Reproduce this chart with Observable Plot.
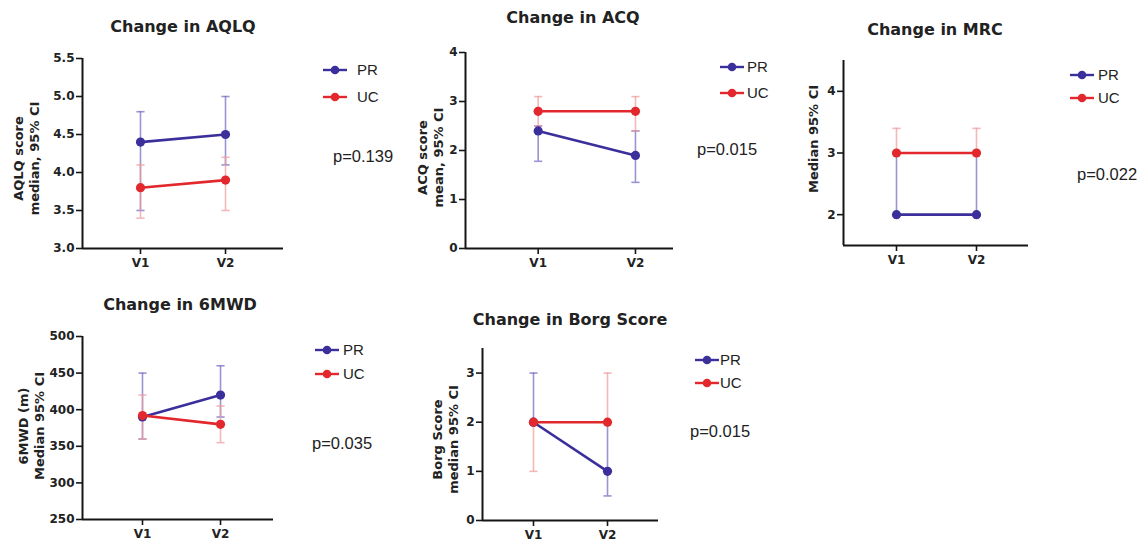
<!DOCTYPE html>
<html>
<head>
<meta charset="utf-8">
<script src="https://cdn.jsdelivr.net/npm/d3@7"></script>
<script src="https://cdn.jsdelivr.net/npm/@observablehq/plot@0.6"></script>
<style>
  body { margin: 0; background: #fff; }
  #fig { position: relative; width: 1137px; height: 541px; overflow: hidden; background: #fff; }
  .abs { position: absolute; }
  .title { font-family: "DejaVu Sans", sans-serif; font-weight: bold; font-size: 16px; color: #222;
           transform: translateX(-50%); white-space: nowrap; line-height: 1; }
  .leg { font-family: "Liberation Sans", Arial, sans-serif; font-size: 15px; color: #222; line-height: 1; white-space: nowrap; }
  .pval { font-family: "Liberation Sans", Arial, sans-serif; font-size: 16.5px; color: #222; line-height: 1; white-space: nowrap; }
</style>
</head>
<body>
<div id="fig"></div>
<script>
// Visits and study groups
const visits = ["V1", "V2"];
const groups = ["PR", "UC"];

// AQLQ score, median and 95% CI
const aqlqPR = [4.4, 4.5];
const aqlqUC = [3.8, 3.9];
const aqlqPRci = [[3.5, 4.8], [4.1, 5.0]];
const aqlqUCci = [[3.4, 4.1], [3.5, 4.2]];
const aqlqTicks = [3.0, 3.5, 4.0, 4.5, 5.0, 5.5];

// ACQ score, mean and 95% CI
const acqPR = [2.4, 1.9];
const acqUC = [2.8, 2.8];
const acqPRci = [[1.78, 2.5], [1.35, 2.4]];
const acqUCci = [[2.5, 3.1], [2.4, 3.1]];
const acqTicks = [0, 1, 2, 3, 4];

// MRC dyspnoea, median and 95% CI
const mrcPR = [2, 2];
const mrcUC = [3, 3];
const mrcPRci = [[2, 3], [2, 3]];
const mrcUCci = [[3, 3.4], [3, 3.4]];
const mrcTicks = [2, 3, 4];

// Six-minute walk distance (m), median and 95% CI
const mwdPR = [390, 420];
const mwdUC = [392, 380];
const mwdPRci = [[360, 450], [390, 460]];
const mwdUCci = [[360, 420], [355, 405]];
const mwdTicks = [250, 300, 350, 400, 450, 500];

// Borg score, median and 95% CI
const borgPR = [2, 1];
const borgUC = [2, 2];
const borgPRci = [[2, 3], [0.5, 2]];
const borgUCci = [[1, 2], [2, 3]];
const borgTicks = [0, 1, 2, 3];

const titles = ["Change in AQLQ", "Change in ACQ", "Change in MRC", "Change in 6MWD", "Change in Borg Score"];
const yLabels = ["AQLQ score\nmedian, 95% CI", "ACQ score\nmean, 95% CI", "Median 95% CI", "6MWD (m)\nMedian 95% CI", "Borg Score\nmedian 95% CI"];
const pValues = ["p=0.139", "p=0.015", "p=0.022", "p=0.035", "p=0.015"];

const colors = {PR: "#3b2f9c", UC: "#e2282c"};
const barColors = {PR: "#6d66bf", UC: "#ee9a9a"};

function rows(pr, uc, prCI, ucCI) {
  const out = [];
  [[pr, prCI], [uc, ucCI]].forEach(([vals, ci], g) =>
    vals.forEach((v, i) => out.push({group: groups[g], visit: visits[i], x: i + 1, value: v, lo: ci[i][0], hi: ci[i][1]})));
  return out;
}

// Panel layout: plot frame in page pixels and scale domains
const panels = [
  {data: rows(aqlqPR, aqlqUC, aqlqPRci, aqlqUCci), ticks: aqlqTicks, fmt: d3.format(".1f"),
   frame: [82, 283, 58, 248], xDomain: [0.318, 2.682], yDomain: [3, 5.5],
   titleAt: [183, 19], legAt: [323, 70, 97, 357], pAt: [333, 148], yl: [-57, 5]},
  {data: rows(acqPR, acqUC, acqPRci, acqUCci), ticks: acqTicks, fmt: d3.format("d"),
   frame: [465, 673, 52, 248], xDomain: [0.253, 2.391], yDomain: [0, 4],
   titleAt: [573, 10], legAt: [720, 67, 93, 747], pAt: [697, 141], yl: [-36, 7]},
  {data: rows(mrcPR, mrcUC, mrcPRci, mrcUCci), ticks: mrcTicks, fmt: d3.format("d"),
   frame: [843, 1028, 60, 245], xDomain: [0.3375, 2.65], yDomain: [1.5, 4.5],
   titleAt: [935, 22], legAt: [1070, 75, 98, 1098], pAt: [1077, 166], yl: [-31, -14]},
  {data: rows(mwdPR, mwdUC, mwdPRci, mwdUCci), ticks: mwdTicks, fmt: d3.format("d"),
   frame: [82, 273, 336, 519], xDomain: [0.231, 2.679], yDomain: [250, 500],
   titleAt: [180, 297], legAt: [315, 350, 374, 343], pAt: [312, 435], yl: [-52, -2]},
  {data: rows(borgPR, borgUC, borgPRci, borgUCci), ticks: borgTicks, fmt: d3.format("d"),
   frame: [482, 658, 348, 520], xDomain: [0.311, 2.689], yDomain: [0, 3.5],
   titleAt: [570, 312], legAt: [695, 360, 383, 720], pAt: [690, 423], yl: [-38, 5]}
];

// Horizontal cap for the CI whiskers
const capSymbol = {draw(ctx, size) { const r = Math.sqrt(size); ctx.moveTo(-r, 0); ctx.lineTo(r, 0); }};

const fig = document.getElementById("fig");
const ml = 80, mr = 14, mt = 12, mb = 34;

panels.forEach((p, k) => {
  const [fx0, fx1, fy0, fy1] = p.frame;
  const byGroup = g => p.data.filter(d => d.group === g);
  const caps = g => byGroup(g).flatMap(d => [{x: d.x, y: d.lo}, {x: d.x, y: d.hi}]);
  const marks = [];
  for (const g of groups) {
    marks.push(Plot.ruleX(byGroup(g), {x: "x", y1: "lo", y2: "hi", stroke: barColors[g], strokeWidth: 1.6, strokeOpacity: 0.7}));
    marks.push(Plot.dot(caps(g), {x: "x", y: "y", symbol: capSymbol, r: 2.3, fill: "none", stroke: barColors[g], strokeWidth: 1.6, strokeOpacity: 0.7}));
  }
  for (const g of groups) marks.push(Plot.line(byGroup(g), {x: "x", y: "value", stroke: colors[g], strokeWidth: 2.6}));
  for (const g of groups) marks.push(Plot.dot(byGroup(g), {x: "x", y: "value", fill: colors[g], r: 4.6}));
  marks.push(
    Plot.ruleY([p.yDomain[0]], {stroke: "#151515", strokeWidth: 2}),
    Plot.ruleX([p.xDomain[0]], {stroke: "#151515", strokeWidth: 2}),
    Plot.axisY({ticks: p.ticks, tickFormat: p.fmt, tickSize: 6, tickPadding: 2, label: null, stroke: "#151515", strokeWidth: 1.6, fill: "#222"}),
    Plot.axisX({ticks: [1, 2], tickFormat: d => visits[d - 1], tickSize: 6, tickPadding: 4, label: null, stroke: "#151515", strokeWidth: 1.6, fill: "#222"}),
    Plot.text([yLabels[k]], {frameAnchor: "left", rotate: -90, textAnchor: "middle", lineAnchor: "middle",
      dx: p.yl[0], dy: p.yl[1], fontSize: 13, fontWeight: "bold", lineHeight: 1.22, fill: "#222"})
  );
  const svg = Plot.plot({
    width: (fx1 - fx0) + ml + mr, height: (fy1 - fy0) + mt + mb,
    marginLeft: ml, marginRight: mr, marginTop: mt, marginBottom: mb,
    x: {type: "linear", domain: p.xDomain, axis: null, label: null},
    y: {type: "linear", domain: p.yDomain, axis: null, label: null},
    style: {background: "transparent", overflow: "visible", fontFamily: "DejaVu Sans, sans-serif", fontSize: "12px", fontWeight: "bold", color: "#222"},
    marks
  });
  const wrap = document.createElement("div");
  wrap.className = "abs";
  wrap.style.left = (fx0 - ml) + "px";
  wrap.style.top = (fy0 - mt) + "px";
  wrap.appendChild(svg);
  fig.appendChild(wrap);

  const t = document.createElement("div");
  t.className = "abs title";
  t.textContent = titles[k];
  t.style.left = p.titleAt[0] + "px";
  t.style.top = p.titleAt[1] + "px";
  fig.appendChild(t);

  // Legend: line with marker, then the group name
  const [lx, y1, y2, tx] = p.legAt;
  groups.forEach((g, j) => {
    const ly = j === 0 ? y1 : y2;
    const sw = d3.create("svg").attr("width", 26).attr("height", 12)
      .style("position", "absolute").style("left", (lx - 1) + "px").style("top", (ly - 6) + "px");
    sw.append("line").attr("x1", 1).attr("x2", 25).attr("y1", 6).attr("y2", 6).attr("stroke", colors[g]).attr("stroke-width", 2.4);
    sw.append("circle").attr("cx", 13).attr("cy", 6).attr("r", 4.3).attr("fill", colors[g]);
    fig.appendChild(sw.node());
    const lt = document.createElement("div");
    lt.className = "abs leg";
    lt.textContent = g;
    lt.style.left = tx + "px";
    lt.style.top = (ly - 8) + "px";
    fig.appendChild(lt);
  });

  const pv = document.createElement("div");
  pv.className = "abs pval";
  pv.textContent = pValues[k];
  pv.style.left = p.pAt[0] + "px";
  pv.style.top = p.pAt[1] + "px";
  fig.appendChild(pv);
});
</script>
</body>
</html>
